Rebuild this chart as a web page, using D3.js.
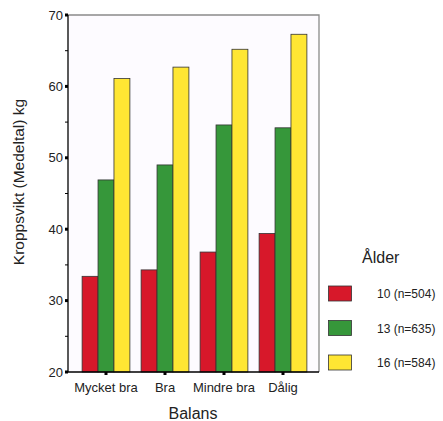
<!DOCTYPE html>
<html><head><meta charset="utf-8">
<script src="https://cdn.jsdelivr.net/npm/d3@7"></script>
<style>body{margin:0;background:#fff}svg{display:block;font-family:"Liberation Sans",Arial,sans-serif}</style>
</head><body><svg id="c" width="443" height="421"></svg>
<script>
const categories = ["Mycket bra", "Bra", "Mindre bra", "Dålig"];
const seriesNames = ["10 (n=504)", "13 (n=635)", "16 (n=584)"];
const age10 = [33.4, 34.3, 36.8, 39.4];
const age13 = [46.9, 49.0, 54.6, 54.2];
const age16 = [61.1, 62.7, 65.2, 67.3];
const colors = ["#d7182a", "#36973a", "#ffe633"];
const yTicks = [20, 30, 40, 50, 60, 70];
const yMinorTicks = [25, 35, 45, 55, 65];

const series = [age10, age13, age16];
const svg = d3.select("#c");
const L = 68, R = 319, T = 15, B = 372;

const y = d3.scaleLinear().domain([20, 70]).range([B, T]);
const x = d3.scaleBand().domain(categories).range([76.5, 312.5]).paddingInner(0.19).paddingOuter(0.095);
const xs = d3.scaleBand().domain(d3.range(3)).range([0, x.bandwidth()]);

// plot background
svg.append("rect").attr("x", L).attr("y", T).attr("width", R - L).attr("height", B - T).attr("fill", "#fdfbff");
// frame top/right
svg.append("path").attr("d", `M${L},${T}H${R}V${B}`).attr("fill", "none").attr("stroke", "#8a8a8a").attr("stroke-width", 1.3);

// bars
categories.forEach((c, i) => {
  series.forEach((s, j) => {
    svg.append("rect")
      .attr("x", x(c) + xs(j))
      .attr("y", y(s[i]))
      .attr("width", xs.bandwidth())
      .attr("height", y(20) - y(s[i]))
      .attr("fill", colors[j])
      .attr("stroke", "#333").attr("stroke-width", 0.8);
  });
});

// y axis
svg.append("line").attr("x1", L).attr("x2", L).attr("y1", T).attr("y2", B).attr("stroke", "#000").attr("stroke-width", 1.3);
yTicks.forEach(t => {
  svg.append("rect").attr("x", L - 3).attr("y", y(t) - 1.5).attr("width", 3).attr("height", 3).attr("fill", "#000");
  svg.append("text").attr("x", 63).attr("y", y(t) + 4.5).attr("text-anchor", "end").attr("font-size", 13).attr("fill", "#222").text(t);
});
yMinorTicks.forEach(t => {
  svg.append("line").attr("x1", L - 3).attr("x2", L).attr("y1", y(t)).attr("y2", y(t)).attr("stroke", "#000").attr("stroke-width", 1);
});
// x axis
svg.append("line").attr("x1", L).attr("x2", R).attr("y1", B).attr("y2", B).attr("stroke", "#000").attr("stroke-width", 1.3);
categories.forEach(c => {
  const cx = x(c) + x.bandwidth() / 2;
  svg.append("rect").attr("x", cx - 1.5).attr("y", B).attr("width", 3).attr("height", 3).attr("fill", "#000");
  svg.append("text").attr("x", cx).attr("y", 392).attr("text-anchor", "middle").attr("font-size", 13).attr("fill", "#222").text(c);
});

// titles
svg.append("text").attr("x", 193).attr("y", 419).attr("text-anchor", "middle").attr("font-size", 16).attr("fill", "#222").text("Balans");
svg.append("text").attr("transform", "translate(24,182) rotate(-90)").attr("text-anchor", "middle").attr("font-size", 15.5).attr("fill", "#222").text("Kroppsvikt (Medeltal) kg");

// legend
svg.append("text").attr("x", 362).attr("y", 263).attr("font-size", 16).attr("fill", "#222").text("Ålder");
seriesNames.forEach((n, j) => {
  const yy = 286 + j * 34.5;
  svg.append("rect").attr("x", 328.5).attr("y", yy).attr("width", 23).attr("height", 15).attr("fill", colors[j]).attr("stroke", "#333").attr("stroke-width", 0.8);
  svg.append("text").attr("x", 377).attr("y", yy + 12).attr("font-size", 12).attr("fill", "#222").text(n);
});
</script></body></html>
